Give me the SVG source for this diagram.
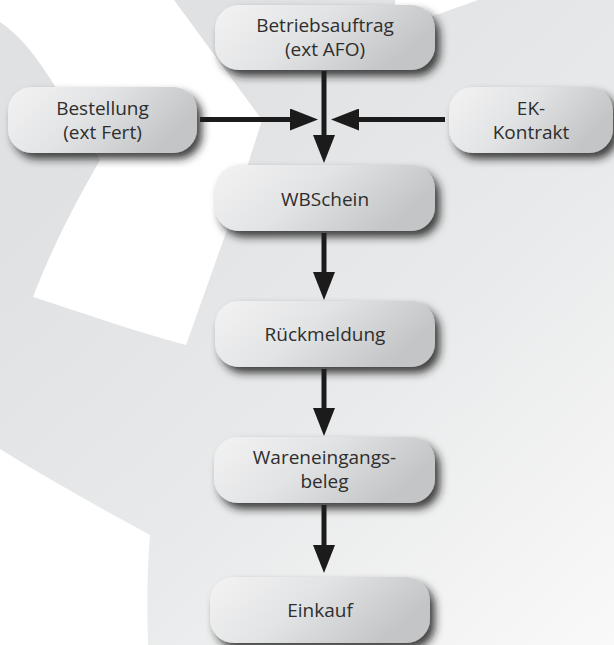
<svg xmlns="http://www.w3.org/2000/svg" width="614" height="645" viewBox="0 0 614 645">
<style>
.box{fill:url(#boxg);filter:url(#sh)}
.t{font-family:"Open Sans","Noto Sans","DejaVu Sans",sans-serif;font-size:19px;fill:#2e2e2e;text-anchor:middle}
.c{stroke:#1b1b1b;stroke-width:5;fill:none;marker-end:url(#ah)}
</style>
<defs>
<linearGradient id="bg" x1="0.25" y1="0.15" x2="1" y2="1">
<stop offset="0" stop-color="#e0e1e3"/>
<stop offset="0.5" stop-color="#e9eaeb"/>
<stop offset="1" stop-color="#f9f9f9"/>
</linearGradient>
<linearGradient id="boxg" x1="0" y1="0" x2="1" y2="0.35">
<stop offset="0" stop-color="#f3f3f4"/>
<stop offset="0.5" stop-color="#e2e3e4"/>
<stop offset="1" stop-color="#c4c5c7"/>
</linearGradient>
<filter id="sh" x="-15%" y="-30%" width="140%" height="180%">
<feDropShadow dx="5" dy="6" stdDeviation="4" flood-color="#1a1a1a" flood-opacity="0.85"/>
</filter>
<marker id="ah" markerUnits="userSpaceOnUse" markerWidth="28" markerHeight="22" refX="1" refY="11" orient="auto">
<path d="M0,0 L28,11 L0,22 Z" fill="#1b1b1b"/>
</marker>
</defs>
<g id="background">
<rect x="0" y="0" width="614" height="645" fill="url(#bg)"/>
<path d="M0,0 L174,0 L262,120 L227,230 L186,345 C130,330 80,312 33,297 C55,240 80,195 100,160 L60,95 C40,60 20,35 0,22 Z" fill="#ffffff"/>
<path d="M0,449 C50,480 100,508 150,535 C147,570 147,610 148,645 L0,645 Z" fill="#ffffff"/>
<path d="M395,0 L478,0 C455,8 440,14 420,20 L395,20 Z" fill="#ffffff"/>
</g>
<g id="connectors">
<path class="c" d="M324,71 V136"/>
<path class="c" d="M200,119.5 H291"/>
<path class="c" d="M445,119.5 H358"/>
<path class="c" d="M324,233 V273"/>
<path class="c" d="M324,369 V409"/>
<path class="c" d="M324,505 V546"/>
</g>
<g id="betriebsauftrag">
<rect class="box" x="215" y="5" width="220" height="65" rx="24"/>
<text class="t" x="325" y="32">Betriebsauftrag</text>
<text class="t" x="325" y="56">(ext AFO)</text>
</g>
<g id="bestellung">
<rect class="box" x="8" y="87" width="189" height="66" rx="24"/>
<text class="t" x="102.5" y="115">Bestellung</text>
<text class="t" x="102.5" y="139">(ext Fert)</text>
</g>
<g id="ek-kontrakt">
<rect class="box" x="449" y="87" width="164" height="66" rx="24"/>
<text class="t" x="531" y="115">EK-</text>
<text class="t" x="531" y="139">Kontrakt</text>
</g>
<g id="wbschein">
<rect class="box" x="215" y="165" width="220" height="66" rx="24"/>
<text class="t" x="325" y="206">WBSchein</text>
</g>
<g id="rueckmeldung">
<rect class="box" x="215" y="301" width="220" height="66" rx="24"/>
<text class="t" x="325" y="341">Rückmeldung</text>
</g>
<g id="wareneingangsbeleg">
<rect class="box" x="214" y="437" width="221" height="66" rx="24"/>
<text class="t" x="324.5" y="464">Wareneingangs-</text>
<text class="t" x="324.5" y="488">beleg</text>
</g>
<g id="einkauf">
<rect class="box" x="210" y="577" width="220" height="66" rx="24"/>
<text class="t" x="320" y="617">Einkauf</text>
</g>
</svg>
